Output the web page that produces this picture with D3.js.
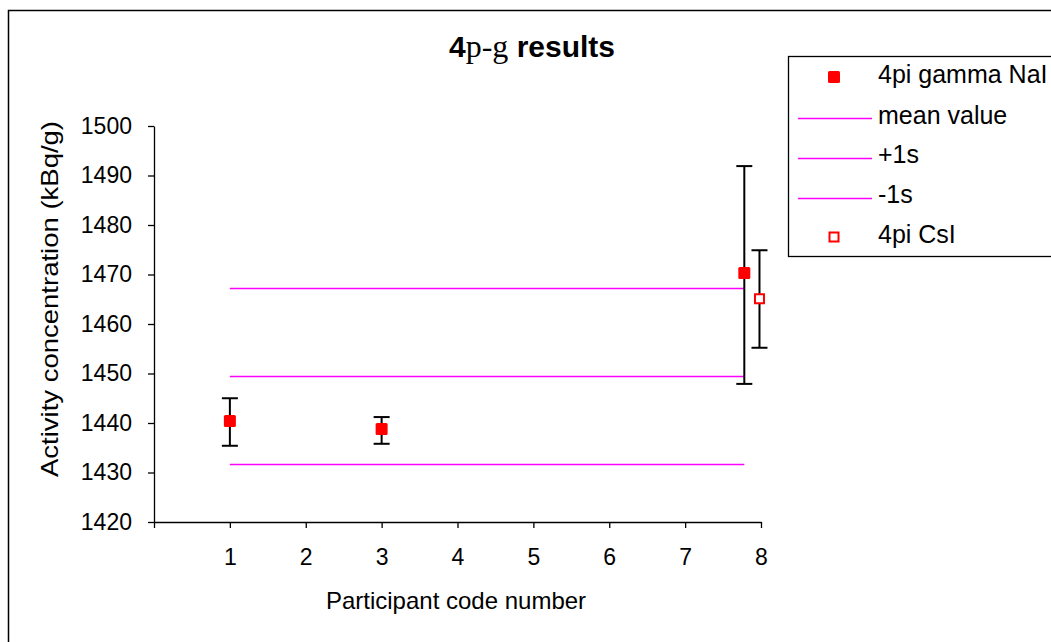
<!DOCTYPE html>
<html><head><meta charset="utf-8">
<script src="https://cdn.jsdelivr.net/npm/d3@7"></script>
<style>body{margin:0;background:#fff}svg{display:block}text{font-family:"Liberation Sans",Arial,sans-serif}</style>
</head><body><svg id="c" width="1051" height="642"></svg>
<script>
const naiParticipants = [1, 3, 7.78];
const naiValues = [1440.4, 1438.8, 1470.3];
const naiLow = [1435.4, 1435.8, 1447.9];
const naiHigh = [1445.0, 1441.2, 1491.9];
const csiParticipants = [7.98];
const csiValues = [1465.1];
const csiLow = [1455.2];
const csiHigh = [1474.9];
const refLineNames = ["mean value", "+1s", "-1s"];
const refLineValues = [1449.5, 1467.3, 1431.7];
const refLineStart = 1, refLineEnd = 7.78;
const xTicks = [1, 2, 3, 4, 5, 6, 7, 8];
const yTicks = [1420, 1430, 1440, 1450, 1460, 1470, 1480, 1490, 1500];

const svg = d3.select("#c");
svg.append("rect").attr("x",8.5).attr("y",10.5).attr("width",1100).attr("height",700)
  .attr("fill","none").attr("stroke","#000").attr("stroke-width",1.5);

const x = d3.scaleLinear().domain([0, 8]).range([154, 761]);
const y = d3.scaleLinear().domain([1420, 1500]).range([522, 126]);

// y axis
const ya = svg.append("g").attr("transform","translate(154,0)")
  .call(d3.axisLeft(y).tickValues(yTicks).tickSize(6).tickPadding(16).tickSizeOuter(0).tickFormat(d3.format("d")));
ya.select(".domain").attr("stroke","#000").attr("stroke-width",1.3);
ya.selectAll("line").attr("stroke","#000").attr("stroke-width",1.3);
ya.selectAll("text").attr("font-size",23).attr("fill","#000").attr("font-family","Liberation Sans, Arial, sans-serif");

// x axis
const xa = svg.append("g").attr("transform","translate(0,522)")
  .call(d3.axisBottom(x).tickValues([0].concat(xTicks)).tickSize(6).tickPadding(21).tickSizeOuter(0)
    .tickFormat(d => d === 0 ? "" : d));
xa.select(".domain").attr("stroke","#000").attr("stroke-width",1.3);
xa.selectAll("line").attr("stroke","#000").attr("stroke-width",1.3);
xa.selectAll("text").attr("font-size",23).attr("fill","#000").attr("font-family","Liberation Sans, Arial, sans-serif");

// reference lines
refLineValues.forEach(v => {
  const yy = Math.round(y(v)) + 0.5;
  svg.append("line").attr("x1", x(refLineStart)).attr("x2", x(refLineEnd))
    .attr("y1", yy).attr("y2", yy).attr("stroke", "#ff00ff").attr("stroke-width", 1.3);
});

// error bars
function errBars(px, lo, hi) {
  px.forEach((p, i) => {
    const cx = x(p);
    const g = svg.append("g").attr("stroke", "#000").attr("stroke-width", 2);
    g.append("line").attr("x1", cx).attr("x2", cx).attr("y1", y(lo[i])).attr("y2", y(hi[i]));
    [lo[i], hi[i]].forEach(v => g.append("line").attr("x1", cx - 8).attr("x2", cx + 8).attr("y1", y(v)).attr("y2", y(v)));
  });
}
errBars(naiParticipants, naiLow, naiHigh);
errBars(csiParticipants, csiLow, csiHigh);

// markers
naiParticipants.forEach((p, i) => {
  svg.append("rect").attr("x", x(p) - 6).attr("y", y(naiValues[i]) - 6).attr("width", 12).attr("height", 12)
    .attr("rx", 1.5).attr("fill", "#ff0000");
});
csiParticipants.forEach((p, i) => {
  svg.append("rect").attr("x", x(p) - 4.5).attr("y", y(csiValues[i]) - 4.5).attr("width", 9).attr("height", 9)
    .attr("fill", "#fff").attr("stroke", "#ff0000").attr("stroke-width", 2);
});

// title
const t = svg.append("text").attr("x", 532).attr("y", 57).attr("text-anchor", "middle")
  .attr("font-size", 30).attr("font-weight", "bold").attr("fill", "#000");
t.append("tspan").text("4");
t.append("tspan").attr("font-family", "Liberation Serif, Times New Roman, serif").attr("font-weight", "normal").attr("font-size", 32).text("p-g");
t.append("tspan").text(" results");

// axis titles
svg.append("text").attr("x", 456).attr("y", 609).attr("text-anchor", "middle").attr("font-size", 24).attr("fill", "#000").text("Participant code number");
svg.append("text").attr("transform", "translate(58,299) rotate(-90)").attr("text-anchor", "middle").attr("font-size", 24)
  .attr("textLength", 356).attr("lengthAdjust", "spacingAndGlyphs").attr("fill", "#000").text("Activity concentration (kBq/g)");

// legend
svg.append("rect").attr("x", 788.5).attr("y", 56.5).attr("width", 400).attr("height", 200)
  .attr("fill", "#fff").attr("stroke", "#000").attr("stroke-width", 1.3);
const legendNames = ["4pi gamma NaI"].concat(refLineNames).concat(["4pi CsI"]);
const legMark = [77, 118, 158, 198, 237];
const legBase = [83, 124, 163, 203, 243];
legendNames.forEach((n, i) => {
  const ly = legMark[i];
  if (i === 0) {
    svg.append("rect").attr("x", 828).attr("y", ly - 6).attr("width", 12).attr("height", 12).attr("rx", 1.5).attr("fill", "#ff0000");
  } else if (i === 4) {
    svg.append("rect").attr("x", 829.5).attr("y", ly - 4.5).attr("width", 9).attr("height", 9).attr("fill", "#fff").attr("stroke", "#ff0000").attr("stroke-width", 2);
  } else {
    svg.append("line").attr("x1", 798).attr("x2", 872).attr("y1", ly + 0.5).attr("y2", ly + 0.5).attr("stroke", "#ff00ff").attr("stroke-width", 1.3);
  }
  svg.append("text").attr("x", 878).attr("y", legBase[i]).attr("font-size", 25).attr("fill", "#000").text(n);
});
</script></body></html>
